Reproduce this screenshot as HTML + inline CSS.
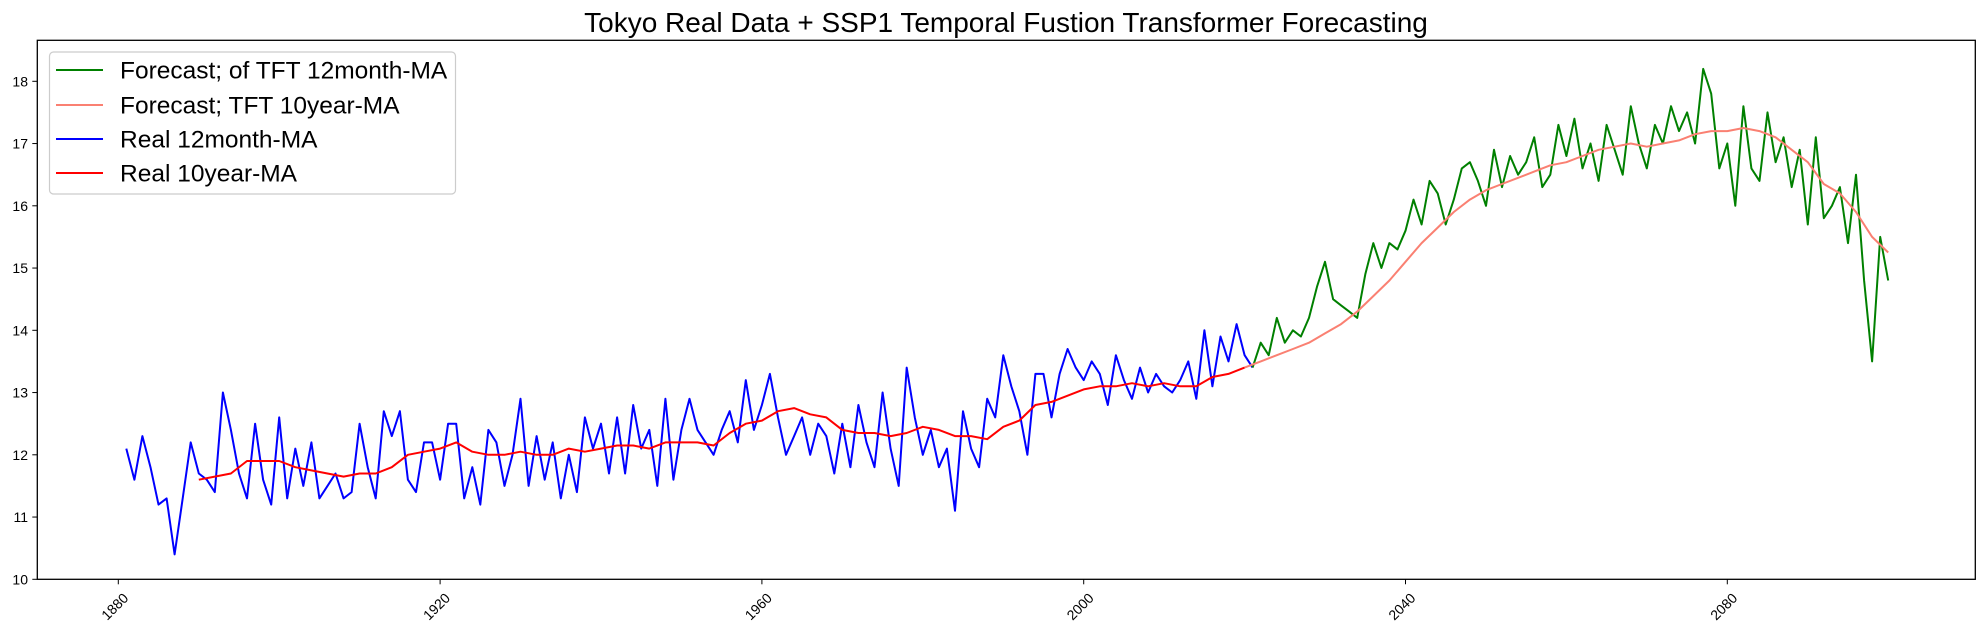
<!DOCTYPE html>
<html><head><meta charset="utf-8"><style>
body{margin:0;background:#fff;}
svg{display:block;font-family:"Liberation Sans","DejaVu Sans",sans-serif;}
</style></head><body>
<svg id="chart" width="1984" height="634" xmlns="http://www.w3.org/2000/svg">
<text x="1006" y="32" font-size="28" text-anchor="middle" fill="#000">Tokyo Real Data + SSP1 Temporal Fustion Transformer Forecasting</text>
<g id="plot"></g>
<rect x="37.3" y="40.3" width="1938" height="539" fill="none" stroke="#000" stroke-width="1.3"/>
<g id="ticks"></g>
<g>
<rect x="49.5" y="52" width="406" height="142" rx="4" fill="#fff" fill-opacity="0.8" stroke="#ccc" stroke-width="1.2"/>
<g><line x1="56" y1="70" x2="103" y2="70" stroke="#008000" stroke-width="2"/><text x="120" y="78.5" font-size="24.5">Forecast; of TFT 12month-MA</text></g>
<g><line x1="56" y1="105" x2="103" y2="105" stroke="#fa8072" stroke-width="2"/><text x="120" y="113.5" font-size="24.5">Forecast; TFT 10year-MA</text></g>
<g><line x1="56" y1="139" x2="103" y2="139" stroke="#0000ff" stroke-width="2"/><text x="120" y="147.5" font-size="24.5">Real 12month-MA</text></g>
<g><line x1="56" y1="173" x2="103" y2="173" stroke="#ff0000" stroke-width="2"/><text x="120" y="181.5" font-size="24.5">Real 10year-MA</text></g>
</g>
</svg>
<script>
const realYears0 = 1881;
const real12 = [12.1,11.6,12.3,11.8,11.2,11.3,10.4,11.3,12.2,11.7,11.6,11.4,13.0,12.4,11.7,11.3,12.5,11.6,11.2,12.6,11.3,12.1,11.5,12.2,11.3,11.5,11.7,11.3,11.4,12.5,11.8,11.3,12.7,12.3,12.7,11.6,11.4,12.2,12.2,11.6,12.5,12.5,11.3,11.8,11.2,12.4,12.2,11.5,12.0,12.9,11.5,12.3,11.6,12.2,11.3,12.0,11.4,12.6,12.1,12.5,11.7,12.6,11.7,12.8,12.1,12.4,11.5,12.9,11.6,12.4,12.9,12.4,12.2,12.0,12.4,12.7,12.2,13.2,12.4,12.8,13.3,12.6,12.0,12.3,12.6,12.0,12.5,12.3,11.7,12.5,11.8,12.8,12.2,11.8,13.0,12.1,11.5,13.4,12.6,12.0,12.4,11.8,12.1,11.1,12.7,12.1,11.8,12.9,12.6,13.6,13.1,12.7,12.0,13.3,13.3,12.6,13.3,13.7,13.4,13.2,13.5,13.3,12.8,13.6,13.2,12.9,13.4,13.0,13.3,13.1,13.0,13.2,13.5,12.9,14.0,13.1,13.9,13.5,14.1,13.6,13.4];
const fcYears0 = 2021;
const fc12 = [13.4,13.8,13.6,14.2,13.8,14.0,13.9,14.2,14.7,15.1,14.5,14.4,14.3,14.2,14.9,15.4,15.0,15.4,15.3,15.6,16.1,15.7,16.4,16.2,15.7,16.1,16.6,16.7,16.4,16.0,16.9,16.3,16.8,16.5,16.7,17.1,16.3,16.5,17.3,16.8,17.4,16.6,17.0,16.4,17.3,16.9,16.5,17.6,17.0,16.6,17.3,17.0,17.6,17.2,17.5,17.0,18.2,17.8,16.6,17.0,16.0,17.6,16.6,16.4,17.5,16.7,17.1,16.3,16.9,15.7,17.1,15.8,16.0,16.3,15.4,16.5,14.8,13.5,15.5,14.8];
const real10Years0 = 1890;
const real10 = [11.6,11.65,11.7,11.9,11.9,11.9,11.8,11.75,11.7,11.65,11.7,11.7,11.8,12.0,12.05,12.1,12.2,12.05,12.0,12.0,12.05,12.0,12.0,12.1,12.05,12.1,12.15,12.15,12.1,12.2,12.2,12.2,12.15,12.35,12.5,12.55,12.7,12.75,12.65,12.6,12.4,12.35,12.35,12.3,12.35,12.45,12.4,12.3,12.3,12.25,12.45,12.55,12.8,12.85,12.95,13.05,13.1,13.1,13.15,13.1,13.15,13.1,13.1,13.25,13.3,13.4];
const fc10Years0 = 2020;
const fc10 = [13.4,13.5,13.6,13.7,13.8,13.95,14.1,14.3,14.55,14.8,15.1,15.4,15.65,15.9,16.1,16.25,16.35,16.45,16.55,16.65,16.7,16.8,16.9,16.95,17.0,16.95,17.0,17.05,17.15,17.2,17.2,17.25,17.2,17.1,16.9,16.7,16.35,16.2,15.9,15.5,15.25];
const xTicks = [1880,1920,1960,2000,2040,2080];
const yTicks = [10,11,12,13,14,15,16,17,18];

const NS="http://www.w3.org/2000/svg";
function X(yr){return 118.3+(yr-1880)*8.045;}
function Y(v){return 579.3-(v-10)*62.25;}
const plot=document.getElementById('plot');
function series(vals,y0,step,color,name){
  let d='';
  vals.forEach((v,i)=>{d+=(i?'L':'M')+X(y0+i*step).toFixed(1)+','+Y(v).toFixed(1);});
  const p=document.createElementNS(NS,'path');
  p.setAttribute('d',d);p.setAttribute('fill','none');p.setAttribute('stroke',color);p.setAttribute('stroke-width','2');p.setAttribute('stroke-linejoin','round');
  
  
  plot.appendChild(p);
}
series(real12,realYears0,1,'#0000ff','real-12month-line');
series(fc12,fcYears0,1,'#008000','forecast-12month-line');
series(real10,real10Years0,2,'#ff0000','real-10year-line');
series(fc10,fc10Years0,2,'#fa8072','forecast-10year-line');

const tk=document.getElementById('ticks');
xTicks.forEach(t=>{
  const l=document.createElementNS(NS,'line');
  l.setAttribute('x1',X(t));l.setAttribute('x2',X(t));l.setAttribute('y1',579.3);l.setAttribute('y2',584.3);l.setAttribute('stroke','#000');
  
  
  tk.appendChild(l);
  const tx=document.createElementNS(NS,'text');
  tx.setAttribute('transform','translate('+(X(t)+4)+',592) rotate(-45)');
  tx.setAttribute('text-anchor','end');tx.setAttribute('font-size','14');tx.setAttribute('dy','0.7em');
  tx.textContent=t;
  
  
  tk.appendChild(tx);
});
yTicks.forEach(t=>{
  const l=document.createElementNS(NS,'line');
  l.setAttribute('x1',32.3);l.setAttribute('x2',37.3);l.setAttribute('y1',Y(t));l.setAttribute('y2',Y(t));l.setAttribute('stroke','#000');
  
  
  tk.appendChild(l);
  const tx=document.createElementNS(NS,'text');
  tx.setAttribute('x',28);tx.setAttribute('y',Y(t)+5);tx.setAttribute('text-anchor','end');tx.setAttribute('font-size','14');
  tx.textContent=t;
  
  
  tk.appendChild(tx);
});
</script>
</body></html>
